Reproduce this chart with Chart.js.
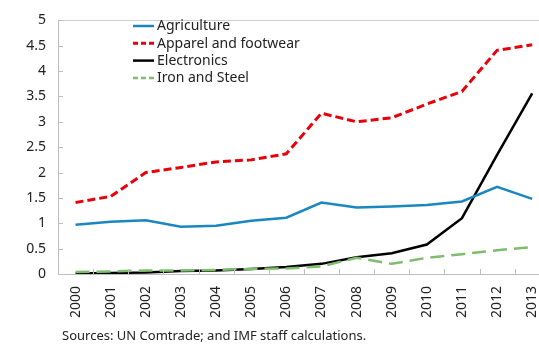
<!DOCTYPE html>
<html>
<head>
<meta charset="utf-8">
<script src="https://cdn.jsdelivr.net/npm/chart.js@4"></script>
<style>
  html, body { margin: 0; padding: 0; background: #fff; overflow: hidden; }
  #wrap { position: relative; width: 561px; height: 347px; }
  #source {
    position: absolute; left: 62px; top: 326px; margin: 0;
    font: 13px "Noto Sans", sans-serif; color: #222; white-space: nowrap;
  }
</style>
</head>
<body>
<div id="wrap">
  <canvas id="chart" width="561" height="347"></canvas>
  <p id="source">Sources: UN Comtrade; and IMF staff calculations.</p>
</div>
<script>
const years = ['2000', '2001', '2002', '2003', '2004', '2005', '2006',
  '2007', '2008', '2009', '2010', '2011', '2012', '2013'];
const agriculture = [0.97, 1.03, 1.06, 0.93, 0.95, 1.05, 1.11, 1.41, 1.31, 1.33, 1.36, 1.43, 1.72, 1.48];
const apparel = [1.41, 1.53, 2.0, 2.1, 2.21, 2.25, 2.37, 3.17, 3.0, 3.08, 3.35, 3.6, 4.41, 4.52];
const electronics = [0.01, 0.02, 0.03, 0.06, 0.07, 0.1, 0.14, 0.2, 0.33, 0.41, 0.58, 1.1, 2.35, 3.56];
const ironSteel = [0.04, 0.05, 0.07, 0.07, 0.08, 0.1, 0.11, 0.15, 0.32, 0.2, 0.32, 0.39, 0.47, 0.53];
const yMax = 5;

const FONT = '"Noto Sans", sans-serif';
const AXIS_GREY = '#bdbdbd';

// legend sits inside the plot, top-left
const insideLegend = {
  id: 'insideLegend',
  afterDraw(chart) {
    const ctx = chart.ctx;
    const x0 = 133, y0 = 26, row = 17.3;
    ctx.save();
    ctx.font = '14px ' + FONT;
    ctx.textBaseline = 'middle';
    chart.data.datasets.forEach((ds, i) => {
      const y = y0 + i * row;
      ctx.beginPath();
      ctx.strokeStyle = ds.borderColor;
      ctx.lineWidth = ds.borderWidth;
      ctx.setLineDash(ds.borderDash ? [5, 3] : []);
      ctx.moveTo(x0, y);
      ctx.lineTo(x0 + 21, y);
      ctx.stroke();
      ctx.fillStyle = '#222';
      ctx.fillText(ds.label, x0 + 24, y + 0.5);
    });
    ctx.restore();
  }
};

// small inward tick marks on both axes
const innerTicks = {
  id: 'innerTicks',
  afterDraw(chart) {
    const ctx = chart.ctx;
    const area = chart.chartArea;
    const xs = chart.scales.x, ys = chart.scales.y;
    ctx.save();
    ctx.strokeStyle = AXIS_GREY;
    ctx.lineWidth = 1;
    ctx.beginPath();
    for (let i = 1; i < years.length; i++) {
      const x = Math.round((xs.getPixelForValue(i - 1) + xs.getPixelForValue(i)) / 2) + 0.5;
      ctx.moveTo(x, area.bottom);
      ctx.lineTo(x, area.bottom - 5);
    }
    ys.ticks.forEach(t => {
      const y = Math.round(ys.getPixelForValue(t.value)) + 0.5;
      ctx.moveTo(area.left, y);
      ctx.lineTo(area.left + 5, y);
    });
    ctx.stroke();
    ctx.restore();
  }
};

new Chart(document.getElementById('chart'), {
  type: 'line',
  data: {
    labels: years,
    datasets: [
      {
        label: 'Agriculture',
        data: agriculture,
        borderColor: '#1a87bf',
        borderWidth: 2.5,
        order: 1
      },
      {
        label: 'Apparel and footwear',
        data: apparel,
        borderColor: '#e8000b',
        borderWidth: 3,
        borderDash: [8, 4],
        order: 0
      },
      {
        label: 'Electronics',
        data: electronics,
        borderColor: '#000000',
        borderWidth: 2.5,
        order: 3
      },
      {
        label: 'Iron and Steel',
        data: ironSteel,
        borderColor: '#7dbd6d',
        borderWidth: 2.5,
        borderDash: [14, 7],
        order: 2
      }
    ]
  },
  options: {
    responsive: false,
    animation: false,
    elements: {
      point: { radius: 0 },
      line: { tension: 0, fill: false }
    },
    layout: { padding: { top: 10, right: 0, bottom: 22, left: 0 } },
    plugins: {
      legend: { display: false },
      tooltip: { enabled: false }
    },
    scales: {
      x: {
        offset: true,
        grid: { display: false, drawTicks: false },
        border: { color: AXIS_GREY },
        ticks: {
          color: '#222',
          font: { family: FONT, size: 14 },
          minRotation: 90,
          maxRotation: 90,
          padding: 12
        },
        afterFit(scale) { scale.height = 51; }
      },
      y: {
        min: 0,
        max: yMax,
        ticks: {
          stepSize: 0.5,
          color: '#222',
          font: { family: FONT, size: 14 },
          padding: 12,
          callback: v => String(Math.round(v * 10) / 10)
        },
        grid: {
          drawTicks: false,
          color: ctx => (ctx.tick && ctx.tick.value === yMax ? '#d0d0d0' : 'rgba(0,0,0,0)')
        },
        border: { color: AXIS_GREY },
        afterFit(scale) { scale.width = 58; }
      }
    }
  },
  plugins: [insideLegend, innerTicks]
});
</script>
</body>
</html>
